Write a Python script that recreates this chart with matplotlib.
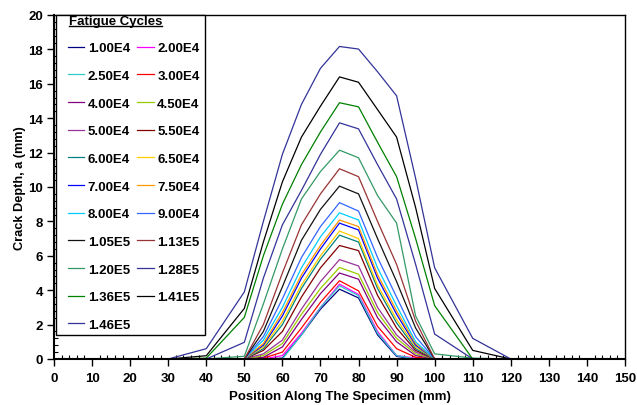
import matplotlib
matplotlib.use("Agg")
import matplotlib.pyplot as plt
from matplotlib.ticker import MultipleLocator
from matplotlib.lines import Line2D
from matplotlib.patches import Rectangle

plt.rcParams['font.family'] = ['Liberation Sans', 'DejaVu Sans']
plt.rcParams['font.weight'] = 'bold'

# Positions along the specimen (mm)
positions = [0, 10, 20, 30, 40, 50, 55, 60, 65, 70, 75, 80, 85, 90, 95, 100, 110, 120, 130, 140, 150]

cycles = ["1.00E4", "2.00E4", "2.50E4", "3.00E4", "4.00E4", "4.50E4", "5.00E4",
          "5.50E4", "6.00E4", "6.50E4", "7.00E4", "7.50E4", "8.00E4", "9.00E4",
          "1.05E5", "1.13E5", "1.20E5", "1.28E5", "1.36E5", "1.41E5", "1.46E5"]

#            0  10 20 30  40    50    55    60    65    70    75     80     85    90    95    100   110  120 130 140 150
d_1_00E4 = [0, 0, 0, 0, 0,    0,    0,    0.05, 1.4,  2.9,  4.06,  3.55,  1.4,  0.15, 0,    0,    0,   0, 0, 0, 0]
d_2_00E4 = [0, 0, 0, 0, 0,    0,    0,    0.2,  1.5,  3.0,  4.35,  3.75,  1.6,  0.2,  0.05, 0,    0,   0, 0, 0, 0]
d_2_50E4 = [0, 0, 0, 0, 0,    0,    0,    0.0,  1.4,  3.0,  4.25,  3.68,  1.5,  0.2,  0,    0,    0,   0, 0, 0, 0]
d_3_00E4 = [0, 0, 0, 0, 0,    0,    0.05, 0.4,  1.8,  3.3,  4.55,  3.96,  1.9,  0.6,  0.1,  0,    0,   0, 0, 0, 0]
d_4_00E4 = [0, 0, 0, 0, 0,    0,    0.1,  0.7,  2.3,  3.8,  5.0,   4.64,  2.4,  1.0,  0.2,  0,    0,   0, 0, 0, 0]
d_4_50E4 = [0, 0, 0, 0, 0,    0,    0.2,  0.9,  2.6,  4.1,  5.32,  4.93,  2.7,  1.2,  0.3,  0,    0,   0, 0, 0, 0]
d_5_00E4 = [0, 0, 0, 0, 0,    0,    0.3,  1.1,  2.9,  4.5,  5.78,  5.41,  3.0,  1.4,  0.4,  0,    0,   0, 0, 0, 0]
d_5_50E4 = [0, 0, 0, 0, 0,    0,    0.5,  1.6,  3.6,  5.3,  6.6,   6.3,   3.7,  1.8,  0.5,  0,    0,   0, 0, 0, 0]
d_6_00E4 = [0, 0, 0, 0, 0,    0,    0.6,  2.0,  4.1,  5.8,  7.2,   6.8,   4.1,  2.1,  0.6,  0,    0,   0, 0, 0, 0]
d_6_50E4 = [0, 0, 0, 0, 0,    0,    0.7,  2.2,  4.3,  6.0,  7.44,  7.0,   4.3,  2.3,  0.7,  0,    0,   0, 0, 0, 0]
d_7_00E4 = [0, 0, 0, 0, 0,    0,    0.8,  2.5,  4.7,  6.4,  7.9,   7.5,   4.7,  2.6,  0.8,  0,    0,   0, 0, 0, 0]
d_7_50E4 = [0, 0, 0, 0, 0,    0,    0.9,  2.7,  4.9,  6.6,  8.08,  7.7,   4.9,  2.8,  0.9,  0,    0,   0, 0, 0, 0]
d_8_00E4 = [0, 0, 0, 0, 0,    0,    1.1,  3.0,  5.3,  7.1,  8.5,   8.08,  5.3,  3.1,  1.0,  0,    0,   0, 0, 0, 0]
d_9_00E4 = [0, 0, 0, 0, 0,    0,    1.3,  3.5,  5.9,  7.7,  9.09,  8.6,   5.9,  3.6,  1.3,  0,    0,   0, 0, 0, 0]
d_1_05E5 = [0, 0, 0, 0, 0,    0,    1.6,  4.2,  6.9,  8.7,  10.05, 9.6,   7.0,  4.5,  1.8,  0,    0,   0, 0, 0, 0]
d_1_13E5 = [0, 0, 0, 0, 0,    0,    2.0,  5.0,  7.8,  9.6,  11.06, 10.6,  8.0,  5.5,  2.2,  0,    0,   0, 0, 0, 0]
d_1_20E5 = [0, 0, 0, 0, 0,    0.16, 3.2,  6.4,  9.3,  10.9, 12.14, 11.7,  9.5,  7.9,  2.5,  0.3,  0.05, 0, 0, 0, 0]
d_1_28E5 = [0, 0, 0, 0, 0,    0.97, 4.7,  7.8,  9.8,  11.9, 13.73, 13.38, 11.3, 9.3,  5.5,  1.45, 0,   0, 0, 0, 0]
d_1_36E5 = [0, 0, 0, 0, 0.05, 2.42, 6.0,  9.0,  11.3, 13.2, 14.9,  14.66, 12.6, 10.6, 7.0,  3.1,  0,   0, 0, 0, 0]
d_1_41E5 = [0, 0, 0, 0, 0.19, 2.94, 6.8,  10.3, 12.9, 14.7, 16.4,  16.09, 14.5, 12.9, 8.8,  4.1,  0.5, 0, 0, 0, 0]
d_1_46E5 = [0, 0, 0, 0, 0.6,  3.9,  8.0,  11.9, 14.8, 16.9, 18.17, 18.02, 16.7, 15.3, 10.5, 5.3,  1.2, 0, 0, 0, 0]

series = [d_1_00E4, d_2_00E4, d_2_50E4, d_3_00E4, d_4_00E4, d_4_50E4, d_5_00E4,
          d_5_50E4, d_6_00E4, d_6_50E4, d_7_00E4, d_7_50E4, d_8_00E4, d_9_00E4,
          d_1_05E5, d_1_13E5, d_1_20E5, d_1_28E5, d_1_36E5, d_1_41E5, d_1_46E5]

colors = ['#000080', '#FF00FF', '#33CCCC', '#FF0000', '#800080', '#99CC00', '#993399',
          '#800000', '#008080', '#FFCC00', '#0000FF', '#FF9900', '#00CCFF', '#3366FF',
          '#111111', '#993333', '#339966', '#333399', '#008000', '#000000', '#333399']

W, H = 637, 406
fig = plt.figure(figsize=(W / 100, H / 100), dpi=100)
AX_L, AX_R, AX_T, AX_B = 54, 625, 16, 360
ax = fig.add_axes([AX_L / W, 1 - AX_B / H, (AX_R - AX_L) / W, (AX_B - AX_T) / H])

def ax_xy(px, py):
    """pixel position (from top-left of figure) -> axes fraction"""
    return (px - AX_L) / (AX_R - AX_L), (AX_B - py) / (AX_B - AX_T)

handles = []
for vals, lab, c in zip(series, cycles, colors):
    h, = ax.plot(positions, vals, color=c, lw=0.9, label=lab, clip_on=False)
    handles.append(h)

ax.set_xlim(0, 150)
ax.set_ylim(0, 20)
ax.xaxis.set_major_locator(MultipleLocator(10))
ax.xaxis.set_minor_locator(MultipleLocator(2))
ax.yaxis.set_major_locator(MultipleLocator(2))
ax.yaxis.set_minor_locator(MultipleLocator(0.4))
ax.tick_params(which='major', direction='out', length=5, width=1, labelsize=9.5)
ax.tick_params(axis='x', which='major', pad=4.5)
ax.tick_params(axis='y', which='major', pad=3)
ax.tick_params(which='minor', direction='in', length=3, width=0.8)
for s in ax.spines.values():
    s.set_linewidth(1.0)
ax.spines['left'].set_linewidth(1.5)
ax.spines['bottom'].set_linewidth(1.5)

ax.set_xlabel("Position Along The Specimen (mm)", fontsize=9.5, fontweight='bold', labelpad=4)
ax.set_ylabel("Crack Depth, a (mm)", fontsize=9.2, fontweight='bold', labelpad=1.5)

# legend frame
fx0, fy0 = ax_xy(56, 336)
fx1, fy1 = ax_xy(205, 16)
ax.add_patch(Rectangle((fx0, fy0), fx1 - fx0, fy1 - fy0, transform=ax.transAxes,
                       facecolor='white', edgecolor='black', lw=1.0, zorder=4,
                       clip_on=False))

# legend title
tx, ty = ax_xy(69, 22.5)
title = ax.text(tx, ty, "Fatigue Cycles", transform=ax.transAxes, fontsize=9.5,
                fontweight='bold', ha='left', va='center', zorder=6)

order = list(range(0, 21, 2)) + list(range(1, 21, 2))
lx, ly = ax_xy(68, 43)
leg = ax.legend([handles[i] for i in order], [cycles[i] for i in order],
                ncol=2, loc='upper left', bbox_to_anchor=(lx, ly), borderaxespad=0,
                fontsize=9.5, frameon=False, labelspacing=1.17, handlelength=1.25,
                handletextpad=0.25, columnspacing=0.55, borderpad=0)
leg.set_zorder(6)
for t in leg.get_texts():
    t.set_fontweight('bold')

# underline the legend title
fig.canvas.draw()
bb = title.get_window_extent(fig.canvas.get_renderer())
inv = fig.transFigure.inverted()
(x0, y0), (x1, y1) = inv.transform([(bb.x0, bb.y0 + 1.5), (bb.x1, bb.y0 + 1.5)])
fig.add_artist(Line2D([x0, x1], [y0, y1], transform=fig.transFigure, color='black', lw=1.0,
                      zorder=7))

fig.savefig("out.png", dpi=100)
